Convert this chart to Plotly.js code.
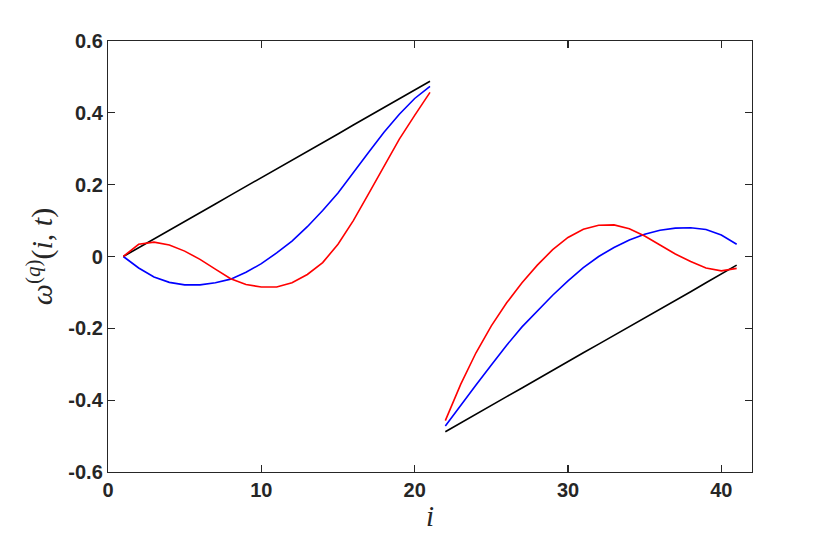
<!DOCTYPE html>
<html>
<head>
<meta charset="utf-8">
<script src="https://cdn.plot.ly/plotly-3.0.1.min.js"></script>
<style>html,body{margin:0;padding:0;background:#fff;}#chart{width:830px;height:538px;}</style>
</head>
<body>
<div id="chart"></div>
<script>
// Segment 1: i = 1..21, Segment 2: i = 22..41
const iSeg1 = [1,2,3,4,5,6,7,8,9,10,11,12,13,14,15,16,17,18,19,20,21];
const iSeg2 = [22,23,24,25,26,27,28,29,30,31,32,33,34,35,36,37,38,39,40,41];

const blackSeg1 = [0,0.024,0.049,0.073,0.098,0.122,0.146,0.171,0.195,0.220,0.244,0.268,0.293,0.317,0.341,0.366,0.390,0.415,0.439,0.463,0.488];
const blackSeg2 = [-0.488,-0.463,-0.439,-0.415,-0.390,-0.366,-0.341,-0.317,-0.293,-0.268,-0.244,-0.220,-0.195,-0.171,-0.146,-0.122,-0.098,-0.073,-0.049,-0.024];

const blueSeg1 = [0,-0.032,-0.057,-0.072,-0.079,-0.079,-0.073,-0.063,-0.044,-0.020,0.010,0.043,0.083,0.128,0.177,0.232,0.290,0.346,0.396,0.440,0.474];
const blueSeg2 = [-0.472,-0.414,-0.358,-0.302,-0.247,-0.196,-0.151,-0.108,-0.068,-0.031,0.000,0.025,0.046,0.062,0.073,0.079,0.080,0.075,0.060,0.034];

const redSeg1 = [0,0.034,0.040,0.032,0.015,-0.008,-0.035,-0.062,-0.078,-0.085,-0.085,-0.073,-0.050,-0.017,0.034,0.100,0.175,0.253,0.327,0.393,0.457];
const redSeg2 = [-0.457,-0.356,-0.268,-0.193,-0.129,-0.073,-0.024,0.019,0.053,0.076,0.087,0.088,0.077,0.057,0.032,0.007,-0.014,-0.032,-0.040,-0.033];

const xTicks = [0,10,20,30,40];
const yTicks = [-0.6,-0.4,-0.2,0,0.2,0.4,0.6];
const yTickText = ['-0.6','-0.4','-0.2','0','0.2','0.4','0.6'];

function seg(x, y, color) {
  return {x: x, y: y, type: 'scatter', mode: 'lines', line: {color: color, width: 1.6}, showlegend: false, hoverinfo: 'skip'};
}

const data = [
  seg(iSeg1, blackSeg1, '#000000'),
  seg(iSeg2, blackSeg2, '#000000'),
  seg(iSeg1, blueSeg1, '#0000ff'),
  seg(iSeg2, blueSeg2, '#0000ff'),
  seg(iSeg1, redSeg1, '#ff0000'),
  seg(iSeg2, redSeg2, '#ff0000')
];

const axisCommon = {
  showline: true, linecolor: '#262626', linewidth: 1.2,
  mirror: 'ticks', ticks: 'inside', ticklen: 7, tickwidth: 1.2, tickcolor: '#262626',
  showgrid: false, zeroline: false,
  tickfont: {family: 'Liberation Sans, Arial, sans-serif', size: 20, color: '#262626', weight: 'bold'}
};

const layout = {
  width: 830, height: 538,
  margin: {l: 108, r: 78, t: 41, b: 66},
  paper_bgcolor: '#ffffff', plot_bgcolor: '#ffffff',
  xaxis: Object.assign({}, axisCommon, {
    range: [0, 42], tickvals: xTicks, ticktext: xTicks.map(String),
    title: {text: '<i>i</i>', font: {family: 'Liberation Serif, DejaVu Serif, serif', size: 29, color: '#262626'}, standoff: 5}
  }),
  yaxis: Object.assign({}, axisCommon, {
    range: [-0.6, 0.6], tickvals: yTicks, ticktext: yTickText,
    title: {text: '<i>ω</i><sup>(<i>q</i>)</sup>(<i>i</i>, <i>t</i>)', font: {family: 'Liberation Serif, DejaVu Serif, serif', size: 30, color: '#262626'}, standoff: 6}
  })
};

Plotly.newPlot('chart', data, layout, {staticPlot: true, displayModeBar: false});
</script>
</body>
</html>
